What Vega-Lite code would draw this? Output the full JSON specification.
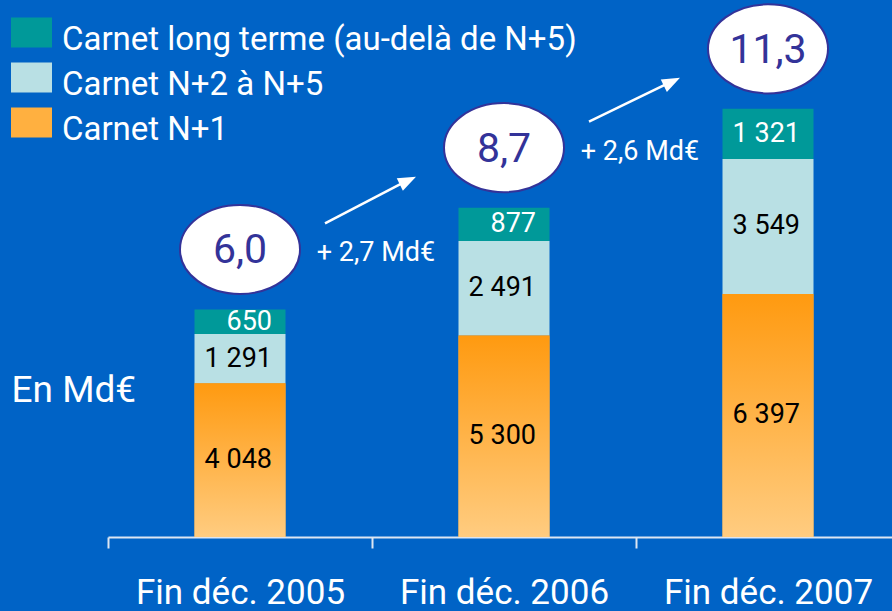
{
  "$schema": "https://vega.github.io/schema/vega-lite/v6.json",
  "width": 784,
  "height": 537,
  "autosize": {"type": "none"},
  "padding": {"left": 108, "top": 0, "right": 0, "bottom": 74},
  "background": "#0063C6",
  "config": {
    "view": {"stroke": null},
    "font": "Roboto",
    "axis": {"grid": false}
  },
  "datasets": {
    "bars": [
      {"year": "Fin déc. 2005", "category": "Carnet N+1", "value": 4048, "label": "4 048"},
      {"year": "Fin déc. 2005", "category": "Carnet N+2 à N+5", "value": 1291, "label": "1 291"},
      {"year": "Fin déc. 2005", "category": "Carnet long terme (au-delà de N+5)", "value": 650, "label": "650"},
      {"year": "Fin déc. 2006", "category": "Carnet N+1", "value": 5300, "label": "5 300"},
      {"year": "Fin déc. 2006", "category": "Carnet N+2 à N+5", "value": 2491, "label": "2 491"},
      {"year": "Fin déc. 2006", "category": "Carnet long terme (au-delà de N+5)", "value": 877, "label": "877"},
      {"year": "Fin déc. 2007", "category": "Carnet N+1", "value": 6397, "label": "6 397"},
      {"year": "Fin déc. 2007", "category": "Carnet N+2 à N+5", "value": 3549, "label": "3 549"},
      {"year": "Fin déc. 2007", "category": "Carnet long terme (au-delà de N+5)", "value": 1321, "label": "1 321"}
    ],
    "totals": [
      {"year": "Fin déc. 2005", "total": 5989, "label": "6,0"},
      {"year": "Fin déc. 2006", "total": 8668, "label": "8,7"},
      {"year": "Fin déc. 2007", "total": 11267, "label": "11,3"}
    ],
    "growth": [
      {"from": "Fin déc. 2005", "to": "Fin déc. 2006", "from_total": 5989, "to_total": 8668, "label": "+ 2,7 Md€"},
      {"from": "Fin déc. 2006", "to": "Fin déc. 2007", "from_total": 8668, "to_total": 11267, "label": "+ 2,6 Md€"}
    ]
  },
  "layer": [
    {
      "data": {"name": "bars"},
      "transform": [
        {"stack": "value", "groupby": ["year"], "sort": [{"field": "category", "order": "ascending"}], "as": ["v0", "v1"]}
      ],
      "mark": {"type": "bar", "width": 91},
      "encoding": {
        "x": {
          "field": "year", "type": "nominal",
          "scale": {"domain": ["Fin déc. 2005", "Fin déc. 2006", "Fin déc. 2007"], "range": [0, 792], "paddingInner": 0, "paddingOuter": 0},
          "axis": {
            "title": null, "labelAngle": 0, "tickBand": "extent",
            "domainColor": "#DCE6F2", "domainWidth": 2, "tickColor": "#DCE6F2", "tickWidth": 2, "tickSize": 11,
            "labelFontSize": 35, "labelColor": "#FFFFFF", "labelPadding": 27, "labelFont": "Roboto", "labelLimit": 400
          }
        },
        "y": {
          "field": "v1", "type": "quantitative",
          "scale": {"domain": [0, 14132], "nice": false},
          "axis": {
            "title": "En Md€", "domain": false, "ticks": false, "labels": false, "grid": false,
            "titleAngle": 0, "titleX": -97, "titleY": 390, "titleAlign": "left", "titleBaseline": "middle",
            "titleFontSize": 37, "titleFontWeight": "normal", "titleColor": "#FFFFFF", "titleFont": "Roboto"
          }
        },
        "y2": {"field": "v0"},
        "color": {
          "field": "category", "type": "nominal",
          "scale": {
            "domain": ["Carnet long terme (au-delà de N+5)", "Carnet N+2 à N+5", "Carnet N+1"],
            "range": ["#009999", "#B9E0E4", "#FFB040"]
          },
          "legend": {
            "title": null, "orient": "none", "legendX": -97, "legendY": 12, "padding": 0, "offset": 0,
            "symbolType": "M-1,-0.732H1V0.732H-1Z", "symbolSize": 1681, "symbolStrokeWidth": 0,
            "rowPadding": -1, "labelFontSize": 33, "labelColor": "#FFFFFF", "labelOffset": 10, "labelLimit": 700,
            "labelFont": "Roboto", "labelBaseline": "middle",
            "encode": {"labels": {"update": {"dy": {"value": 7}}}}
          }
        }
      }
    },
    {
      "data": {"name": "bars"},
      "transform": [
        {"filter": "datum.category === 'Carnet N+1'"}
      ],
      "mark": {
        "type": "bar", "width": 91,
        "color": {"gradient": "linear", "x1": 0, "y1": 0, "x2": 0, "y2": 1, "stops": [{"offset": 0, "color": "#FF9A10"}, {"offset": 1, "color": "#FFCC80"}]}
      },
      "encoding": {
        "x": {"field": "year", "type": "nominal"},
        "y": {"field": "value", "type": "quantitative"}
      }
    },
    {
      "data": {"name": "bars"},
      "transform": [
        {"stack": "value", "groupby": ["year"], "sort": [{"field": "category", "order": "ascending"}], "as": ["v0", "v1"]},
        {"fold": ["v0", "v1"], "as": ["edge", "pos"]},
        {"aggregate": [{"op": "mean", "field": "pos", "as": "mid"}], "groupby": ["year", "category", "label"]}
      ],
      "mark": {"type": "text", "align": "right", "baseline": "middle", "xOffset": 32, "fontSize": 27, "font": "Roboto"},
      "encoding": {
        "x": {"field": "year", "type": "nominal"},
        "y": {"field": "mid", "type": "quantitative"},
        "text": {"field": "label"},
        "color": {
          "condition": {"test": "datum.category === 'Carnet long terme (au-delà de N+5)'", "value": "#FFFFFF"},
          "value": "#000000"
        }
      }
    },
    {
      "data": {"name": "growth"},
      "mark": {"type": "rule", "color": "#FFFFFF", "strokeWidth": 2.5, "xOffset": 85, "yOffset": -86, "x2Offset": -95, "y2Offset": -28},
      "encoding": {
        "x": {"field": "from", "type": "nominal"},
        "x2": {"field": "to"},
        "y": {"field": "from_total", "type": "quantitative"},
        "y2": {"field": "to_total"}
      }
    },
    {
      "data": {"name": "growth"},
      "mark": {"type": "point", "shape": "M0,0L-1.8,-0.7L-1.8,0.7Z", "size": 400, "filled": true, "color": "#FFFFFF", "opacity": 1, "angle": 334, "xOffset": -88, "yOffset": -31},
      "encoding": {
        "x": {"field": "to", "type": "nominal"},
        "y": {"field": "to_total", "type": "quantitative"}
      }
    },
    {
      "data": {"name": "growth"},
      "mark": {"type": "text", "color": "#FFFFFF", "fontSize": 27, "font": "Roboto", "align": "center", "baseline": "middle", "xOffset": 136, "yOffset": -56},
      "encoding": {
        "x": {"field": "from", "type": "nominal"},
        "y": {"field": "from_total", "type": "quantitative"},
        "text": {"field": "label"}
      }
    },
    {
      "data": {"name": "totals"},
      "mark": {"type": "point", "shape": "M1,0C1,0.41,0.5523,0.742,0,0.742C-0.5523,0.742,-1,0.41,-1,0C-1,-0.41,-0.5523,-0.742,0,-0.742C0.5523,-0.742,1,-0.41,1,0Z", "size": 14400, "filled": true, "fill": "#FFFFFF", "stroke": "#333399", "strokeWidth": 2, "opacity": 1, "yOffset": -60},
      "encoding": {
        "x": {"field": "year", "type": "nominal"},
        "y": {"field": "total", "type": "quantitative"}
      }
    },
    {
      "data": {"name": "totals"},
      "mark": {"type": "text", "color": "#333399", "fontSize": 41, "font": "Roboto", "align": "center", "baseline": "middle", "yOffset": -58},
      "encoding": {
        "x": {"field": "year", "type": "nominal"},
        "y": {"field": "total", "type": "quantitative"},
        "text": {"field": "label"}
      }
    }
  ]
}
